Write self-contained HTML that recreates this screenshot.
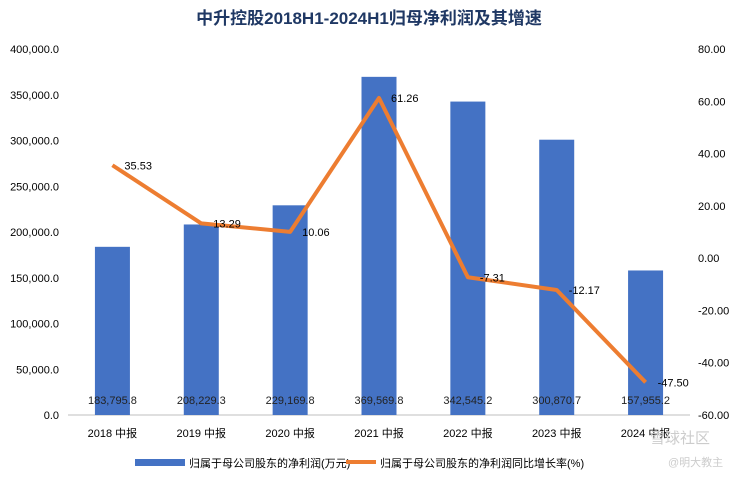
<!DOCTYPE html>
<html><head><meta charset="utf-8"><style>
body{margin:0;background:#fff;width:739px;height:477px;overflow:hidden;font-family:"Liberation Sans","Noto Sans CJK SC",sans-serif}
svg text{font-family:"Liberation Sans","Noto Sans CJK SC",sans-serif}
</style></head><body>
<svg id="c" width="739" height="477">
<text x="369" y="24" text-anchor="middle" font-size="17" font-weight="bold" fill="#1f3864">中升控股2018H1-2024H1归母净利润及其增速</text>
</svg>
<script>
const categories=["2018 中报","2019 中报","2020 中报","2021 中报","2022 中报","2023 中报","2024 中报"];
const profit=[183795.8,208229.3,229169.8,369569.8,342545.2,300870.7,157955.2];
const profitLabels=["183,795.8","208,229.3","229,169.8","369,569.8","342,545.2","300,870.7","157,955.2"];
const growth=[35.53,13.29,10.06,61.26,-7.31,-12.17,-47.50];
const leftTicks=[0,50000,100000,150000,200000,250000,300000,350000,400000];
const rightTicks=[-60,-40,-20,0,20,40,60,80];
const svg=document.getElementById('c');const NS='http://www.w3.org/2000/svg';
const X0=68,X1=690,Y0=415,Y1=49;
const bw=(X1-X0)/categories.length;
const xc=i=>X0+bw*(i+0.5);
const yL=v=>Y0-(v/400000)*(Y0-Y1);
const yR=v=>Y0-((v+60)/140)*(Y0-Y1);
function mk(t,a,txt){const e=document.createElementNS(NS,t);for(const k in a)e.setAttribute(k,a[k]);if(txt!=null)e.textContent=txt;svg.appendChild(e);return e;}
leftTicks.forEach(v=>{const e=mk('text',{x:X0-9,y:yL(v)+4,'text-anchor':'end','font-size':11,fill:'#000'},v===0?'0.0':v.toLocaleString('en-US')+'.0');

});
rightTicks.forEach(v=>{const e=mk('text',{x:X1+8,y:yR(v)+4,'font-size':11,fill:'#000'},v.toFixed(2));

});
let ax=mk('line',{x1:X0,y1:Y0,x2:X1,y2:Y0,stroke:'#bfbfbf'});


profit.forEach((v,i)=>{const r=mk('rect',{x:xc(i)-17.5,y:yL(v),width:35,height:Y0-yL(v),fill:'#4472c4'});


const t=mk('text',{x:xc(i),y:404,'text-anchor':'middle','font-size':11,fill:'#222'},profitLabels[i]);


const c=mk('text',{x:xc(i),y:437,'text-anchor':'middle','font-size':11,fill:'#000'},categories[i]);

});
const pl=mk('polyline',{points:growth.map((v,i)=>xc(i)+','+yR(v)).join(' '),fill:'none',stroke:'#ed7d31','stroke-width':4,'stroke-linejoin':'round'});


growth.forEach((v,i)=>{const t=mk('text',{x:xc(i)+12,y:yR(v)+4,'font-size':11,fill:'#000'},v.toFixed(2));

});
let g=mk('rect',{x:135,y:459,width:50,height:7,fill:'#4472c4'});


g=mk('text',{x:189,y:467,'font-size':11,fill:'#000'},'归属于母公司股东的净利润(万元)');


g=mk('line',{x1:346,y1:462,x2:376,y2:462,stroke:'#ed7d31','stroke-width':4});


g=mk('text',{x:380,y:467,'font-size':11,fill:'#000'},'归属于母公司股东的净利润同比增长率(%)');


g=mk('text',{x:650,y:443,'font-size':15,fill:'#ccc'},'雪球社区');


g=mk('text',{x:668,y:466,'font-size':11,fill:'#ccc'},'@明大教主');


</script>
</body></html>
